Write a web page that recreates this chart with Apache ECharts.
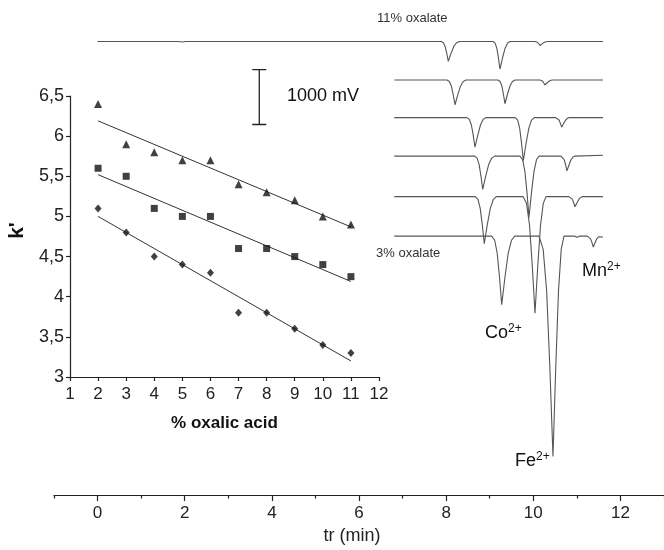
<!DOCTYPE html>
<html><head><meta charset="utf-8">
<script src="https://cdn.jsdelivr.net/npm/echarts@6/dist/echarts.min.js"></script>
<style>html,body{margin:0;padding:0;background:#fff}#c{width:664px;height:550px}</style>
</head><body><div id="c"></div>
<script>
// ---- inset: k' vs % oxalic acid ----
const oxalicAcid = [2, 3, 4, 5, 6, 7, 8, 9, 10, 11];
const kTriangle = [6.4, 5.9, 5.8, 5.7, 5.7, 5.4, 5.3, 5.2, 5.0, 4.9];
const kSquare   = [5.6, 5.5, 5.1, 5.0, 5.0, 4.6, 4.6, 4.5, 4.4, 4.25];
const kDiamond  = [5.1, 4.8, 4.5, 4.4, 4.3, 3.8, 3.8, 3.6, 3.4, 3.3];
const fitX = [2, 11];
const fitTriangle = [6.19, 4.87];
const fitSquare   = [5.52, 4.19];
const fitDiamond  = [5.00, 3.20];
const insetXTicks = [1,2,3,4,5,6,7,8,9,10,11,12];
const insetYTicks = [3, 3.5, 4, 4.5, 5, 5.5, 6, 6.5];

// ---- chromatograms: [tr (min), signal (mV)] ----
const trace11pct = [[0,8262],[1.85,8262],[1.94,8252],[2.03,8262],[7.888,8262],[7.937,8240],[7.977,8172],[8.014,8046],[8.049,7902],[8.112,8046],[8.175,8172],[8.238,8240],[8.301,8262],[9.075,8262],[9.124,8232],[9.164,8136],[9.201,7960],[9.236,7758],[9.293,7960],[9.351,8136],[9.408,8232],[9.466,8262],[10.039,8262],[10.074,8258],[10.102,8244],[10.129,8219],[10.154,8190],[10.200,8219],[10.246,8244],[10.292,8258],[10.338,8262],[11.6,8262]];
const traceB = [[6.81,7560],[8.019,7560],[8.074,7533],[8.120,7448],[8.163,7290],[8.203,7110],[8.266,7290],[8.329,7448],[8.392,7533],[8.455,7560],[9.189,7560],[9.238,7534],[9.278,7452],[9.315,7301],[9.350,7128],[9.407,7301],[9.465,7452],[9.522,7534],[9.580,7560],[10.153,7560],[10.188,7555],[10.216,7538],[10.243,7506],[10.268,7470],[10.314,7506],[10.360,7538],[10.406,7555],[10.452,7560],[11.6,7560]];
const traceC = [[6.81,6876],[8.478,6876],[8.533,6844],[8.579,6741],[8.622,6552],[8.662,6336],[8.725,6552],[8.788,6741],[8.851,6844],[8.914,6876],[9.587,6876],[9.642,6829],[9.688,6679],[9.731,6404],[9.771,6089],[9.834,6404],[9.897,6679],[9.960,6829],[10.023,6876],[10.514,6876],[10.556,6866],[10.590,6832],[10.622,6771],[10.652,6701],[10.698,6771],[10.744,6832],[10.790,6866],[10.836,6876],[11.6,6876]];
const traceD = [[6.81,6174],[8.655,6174],[8.710,6138],[8.756,6022],[8.799,5810],[8.839,5567],[8.908,5810],[8.977,6022],[9.046,6138],[9.114,6174],[9.694,6174],[9.756,6107],[9.808,5895],[9.856,5504],[9.901,5058],[9.958,5504],[10.016,5895],[10.073,6107],[10.131,6174],[10.635,6174],[10.677,6158],[10.711,6107],[10.743,6012],[10.773,5904],[10.819,6012],[10.865,6107],[10.911,6158],[10.957,6174],[11.6,6190]];
const traceE = [[6.81,5436],[8.668,5436],[8.730,5384],[8.782,5221],[8.830,4921],[8.875,4577],[8.944,4921],[9.013,5221],[9.082,5384],[9.150,5436],[9.764,5436],[9.846,5309],[9.915,4905],[9.978,4162],[10.039,3312],[10.102,4162],[10.165,4905],[10.228,5309],[10.291,5436],[10.819,5436],[10.861,5425],[10.895,5390],[10.927,5325],[10.957,5251],[11.003,5325],[11.049,5390],[11.095,5425],[11.141,5436],[11.6,5436]];
const trace3pct = [[6.81,4716],[9.045,4716],[9.114,4641],[9.172,4404],[9.225,3968],[9.275,3469],[9.350,3968],[9.424,4404],[9.499,4641],[9.573,4716],[10.131,4716],[10.227,4475],[10.307,3713],[10.381,2308],[10.452,702],[10.515,2308],[10.578,3713],[10.641,4475],[10.704,4716],[10.95,4716],[11.003,4694],[11.06,4716],[11.239,4716],[11.281,4704],[11.315,4667],[11.347,4597],[11.377,4518],[11.417,4597],[11.457,4667],[11.497,4704],[11.538,4716],[11.6,4700]];
const trLabels = [0, 2, 4, 6, 8, 10, 12];
const trMinorTicks = [-1, 1, 3, 5, 7, 9, 11, 13];
const scaleBarMv = 1000;

const FONT = 'Liberation Sans, Arial, Helvetica, sans-serif';
const traceColor = '#555';

// scale bar placement (position in main-axis units)
const sbX = 3.711, sbW = 0.161, sbBottom = 6750;
const sbPath = [[sbX - sbW, sbBottom + scaleBarMv], [sbX + sbW, sbBottom + scaleBarMv], [sbX, sbBottom + scaleBarMv], [sbX, sbBottom], [sbX - sbW, sbBottom], [sbX + sbW, sbBottom]];

const traces = [trace11pct, traceB, traceC, traceD, traceE, trace3pct];

const chart = echarts.init(document.getElementById('c'), null, {renderer: 'canvas'});
const zip = (xs, ys) => xs.map((x, i) => [x, ys[i]]);
const richIon = {m: {fontSize: 18, lineHeight: 20, fontFamily: FONT, fill: '#111'}, s: {fontSize: 12, lineHeight: 9, verticalAlign: 'top', fontFamily: FONT, fill: '#111'}};

const option = {
  animation: false,
  backgroundColor: '#fff',
  textStyle: {fontFamily: FONT},
  grid: [
    {left: 54, right: 0, top: 1, bottom: 49},
    {left: 70, right: 285, top: 96, bottom: 173}
  ],
  xAxis: [
    {
      type: 'value', gridIndex: 0, min: -1, max: 13, interval: 1, position: 'bottom',
      axisLine: {show: true, lineStyle: {color: '#222', width: 1.2}},
      axisTick: {show: true, customValues: trLabels, length: 6, lineStyle: {color: '#222', width: 1.2}},
      axisLabel: {show: true, customValues: trLabels, fontSize: 17, margin: 10, color: '#222', fontFamily: FONT},
      splitLine: {show: false},
      name: 'tr (min)', nameLocation: 'middle', nameGap: 32,
      nameTextStyle: {fontSize: 18, color: '#222', fontFamily: FONT, padding: [0, 14, 0, 0]}
    },
    {
      type: 'value', gridIndex: 0, min: -1, max: 13, interval: 1, position: 'bottom',
      axisLine: {show: false},
      axisTick: {show: true, customValues: trMinorTicks, length: 3.5, lineStyle: {color: '#222', width: 1.2}},
      axisLabel: {show: false},
      splitLine: {show: false}
    },
    {
      type: 'value', gridIndex: 1, min: 1, max: 12, interval: 1,
      axisLine: {show: true, lineStyle: {color: '#222', width: 1.2}},
      axisTick: {show: true, length: 4, lineStyle: {color: '#222', width: 1.2}},
      axisLabel: {show: true, customValues: insetXTicks, fontSize: 17, margin: 9, color: '#222', fontFamily: FONT},
      splitLine: {show: false},
      name: '% oxalic acid', nameLocation: 'middle', nameGap: 38,
      nameTextStyle: {fontSize: 17, fontWeight: 'bold', color: '#111', fontFamily: FONT}
    }
  ],
  yAxis: [
    {type: 'value', gridIndex: 0, min: 0, max: 9000, show: false},
    {
      type: 'value', gridIndex: 1, min: 3, max: 6.5, interval: 0.5,
      axisLine: {show: true, lineStyle: {color: '#222', width: 1.2}},
      axisTick: {show: true, length: 4, lineStyle: {color: '#222', width: 1.2}},
      axisLabel: {show: true, customValues: insetYTicks, fontSize: 18, margin: 6, color: '#222', fontFamily: FONT,
        formatter: v => String(v).replace('.', ',')},
      splitLine: {show: false},
      name: "k'", nameLocation: 'middle', nameRotate: 90, nameGap: 42,
      nameTextStyle: {fontSize: 21, fontWeight: 'bold', color: '#111', fontFamily: FONT, padding: [0, 0, 0, 12]}
    }
  ],
  series: [
    ...traces.map((d, i) => ({
      name: 'trace' + i, type: 'line', xAxisIndex: 0, yAxisIndex: 0, data: d,
      showSymbol: false, symbol: 'none', smooth: false,
      lineStyle: {color: traceColor, width: 1.1}, z: 2, silent: true
    })),
    {
      name: 'scale', type: 'line', xAxisIndex: 0, yAxisIndex: 0, data: sbPath,
      showSymbol: false, symbol: 'none', lineStyle: {color: '#222', width: 1.3}, silent: true
    },
    {name: 'fitTri', type: 'line', xAxisIndex: 2, yAxisIndex: 1, data: zip(fitX, fitTriangle), showSymbol: false, symbol: 'none', lineStyle: {color: '#333', width: 1}},
    {name: 'fitSq', type: 'line', xAxisIndex: 2, yAxisIndex: 1, data: zip(fitX, fitSquare), showSymbol: false, symbol: 'none', lineStyle: {color: '#333', width: 1}},
    {name: 'fitDia', type: 'line', xAxisIndex: 2, yAxisIndex: 1, data: zip(fitX, fitDiamond), showSymbol: false, symbol: 'none', lineStyle: {color: '#333', width: 1}},
    {name: 'tri', type: 'scatter', xAxisIndex: 2, yAxisIndex: 1, data: zip(oxalicAcid, kTriangle), symbol: 'triangle', symbolSize: [8, 8], itemStyle: {color: '#111'}, z: 5},
    {name: 'sq', type: 'scatter', xAxisIndex: 2, yAxisIndex: 1, data: zip(oxalicAcid, kSquare), symbol: 'rect', symbolSize: 7, itemStyle: {color: '#111'}, z: 5},
    {name: 'dia', type: 'scatter', xAxisIndex: 2, yAxisIndex: 1, data: zip(oxalicAcid, kDiamond), symbol: 'diamond', symbolSize: [7, 8], itemStyle: {color: '#111'}, z: 5}
  ],
  graphic: [
    {type: 'text', left: 377, top: 12, style: {text: '11% oxalate', font: '13px ' + FONT, fill: '#333'}},
    {type: 'text', left: 376, top: 247, style: {text: '3% oxalate', font: '13px ' + FONT, fill: '#333'}},
    {type: 'text', left: 287, top: 87, style: {text: '1000 mV', font: '18px ' + FONT, fill: '#111'}},
    {type: 'text', left: 485, top: 323, style: {text: '{m|Co}{s|2+}', rich: richIon}},
    {type: 'text', left: 582, top: 261, style: {text: '{m|Mn}{s|2+}', rich: richIon}},
    {type: 'text', left: 515, top: 451, style: {text: '{m|Fe}{s|2+}', rich: richIon}}
  ]
};
chart.setOption(option);
</script>
</body></html>
